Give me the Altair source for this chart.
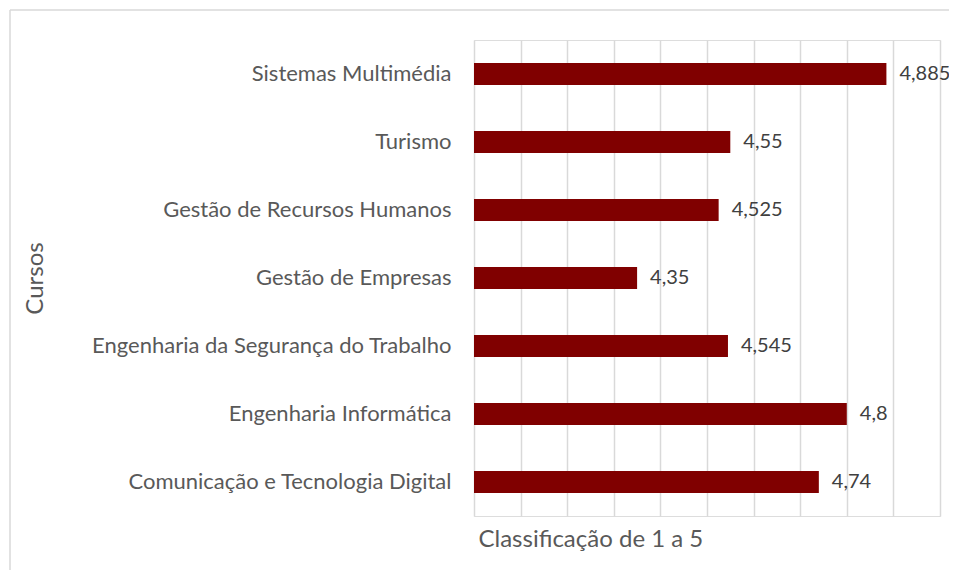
import altair as alt
import pandas as pd

cursos = [
    "Sistemas Multimédia",
    "Turismo",
    "Gestão de Recursos Humanos",
    "Gestão de Empresas",
    "Engenharia da Segurança do Trabalho",
    "Engenharia Informática",
    "Comunicação e Tecnologia Digital",
]
valores = [4.885, 4.55, 4.525, 4.35, 4.545, 4.8, 4.74]
grid_values = [4.0, 4.1, 4.2, 4.3, 4.4, 4.5, 4.6, 4.7, 4.8, 4.9, 5.0]

df = pd.DataFrame({
    "curso": cursos,
    "valor": valores,
    "rotulo": [f"{v:g}".replace(".", ",") for v in valores],
})

FONT = "Lato"

x = alt.X(
    "valor:Q",
    scale=alt.Scale(domain=[4, 5], zero=False, nice=False),
    axis=alt.Axis(
        title="Classificação de 1 a 5",
        values=grid_values,
        labels=False,
        ticks=False,
        domain=False,
        grid=True,
        gridColor="#d9d9d9",
        gridWidth=1.5,
        titleFont=FONT,
        titleFontSize=24,
        titleFontWeight="normal",
        titleColor="#595959",
        titleAlign="left",
        titleAnchor="start",
        titleBaseline="top",
        titleX=4,
        titleY=11,
    ),
)
y = alt.Y(
    "curso:N",
    sort=cursos,
    scale=alt.Scale(paddingInner=0.68, paddingOuter=0.34),
    axis=alt.Axis(
        title="Cursos",
        ticks=False,
        domain=False,
        labelFont=FONT,
        labelFontSize=22,
        labelColor="#595959",
        labelPadding=23,
        labelLimit=0,
        titleFont=FONT,
        titleFontSize=24,
        titleFontWeight="normal",
        titleColor="#595959",
        titleX=-439,
        titleY=238,
        titleAngle=-90,
        titleAlign="center",
        titleBaseline="middle",
    ),
)

base = alt.Chart(df)

bars = base.mark_bar(color="#800000").encode(
    x=x,
    x2=alt.datum(4.0),
    y=y,
)

labels = base.mark_text(
    align="left", baseline="middle", dx=13, font=FONT, fontSize=20, color="#404040"
).encode(x="valor:Q", y=alt.Y("curso:N", sort=cursos), text="rotulo:N")

frame_data = alt.Data(values=[{}])
frame_top = alt.Chart(frame_data).mark_rule(color="#d9d9d9", strokeWidth=1.5).encode(
    x=alt.value(-464), x2=alt.value(480), y=alt.value(-30)
)
frame_left = alt.Chart(frame_data).mark_rule(color="#d9d9d9", strokeWidth=1.5).encode(
    x=alt.value(-464), y=alt.value(-30), y2=alt.value(540)
)

chart = alt.layer(frame_top, frame_left, bars, labels).properties(
    width=466,
    height=476,
    autosize=alt.AutoSizeParams(type="none"),
    padding={"left": 466, "top": 32, "right": 9, "bottom": 54},
).configure_view(stroke=None).configure(background="white")

chart.save("out.html", embed_options={"renderer": "svg", "actions": False})
